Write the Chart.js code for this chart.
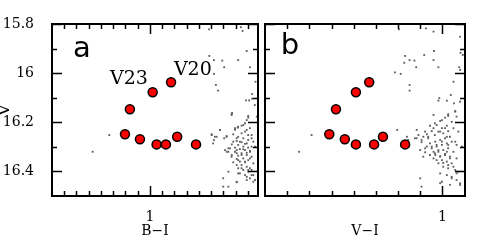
<!DOCTYPE html>
<html>
<head>
<meta charset="utf-8">
<script src="https://cdn.jsdelivr.net/npm/chart.js@4/dist/chart.umd.min.js"></script>
<style>
  html, body { margin: 0; padding: 0; background: #fff; }
  #wrap { position: relative; width: 491px; height: 252px; }
  #wrap canvas { position: absolute; left: 0; top: 0; }
</style>
</head>
<body>
<div id="wrap">
  <canvas id="cmdA" width="491" height="252"></canvas>
  <canvas id="cmdB" width="491" height="252"></canvas>
</div>
<script>
// V range (inverted) and tick marks
const vRange = [15.8, 16.5];
const vMajorTicks = [15.8, 16, 16.2, 16.4];
const vMinorTicks = [15.9, 16.1, 16.3];

// panel a: B-I
const biRange = [0.6, 1.441];
const biMajorTicks = [1];
const biMinorTicks = [0.65, 0.7, 0.75, 0.8, 0.85, 0.9, 0.95, 1.05, 1.1, 1.15, 1.2, 1.25, 1.3, 1.35, 1.4];

// panel b: V-I
const viRange = [0.6, 1.051];
const viMajorTicks = [1];
const viMinorTicks = [0.65, 0.7, 0.75, 0.8, 0.85, 0.9, 0.95];

// red variables [colour, V]
const varsBI = [[0.918, 16.147], [1.011, 16.078], [1.086, 16.037], [0.898, 16.249], [0.959, 16.269],
  [1.027, 16.290], [1.065, 16.290], [1.111, 16.259], [1.188, 16.290]];
const varsVI = [[0.760, 16.147], [0.805, 16.078], [0.835, 16.037], [0.745, 16.249], [0.780, 16.269],
  [0.805, 16.290], [0.846, 16.290], [0.866, 16.259], [0.916, 16.290]];

// field stars [colour, V]
const fieldBI = [
  [1.241, 15.822], [1.371, 15.813], [1.378, 15.828], [1.242, 15.930], [1.261, 15.947], [1.295, 15.949],
  [1.303, 15.976], [1.360, 15.947], [1.395, 15.910], [1.408, 15.976], [1.261, 16.003], [1.431, 16.035],
  [1.269, 16.048], [1.278, 16.071], [1.417, 16.085], [1.392, 16.111], [1.405, 16.111], [1.417, 16.104],
  [1.428, 16.130], [1.335, 16.162], [1.395, 16.191],
  [1.334, 16.167], [1.401, 16.181], [1.388, 16.204], [1.374, 16.214], [1.358, 16.222], [1.347, 16.231],
  [1.286, 16.231], [1.252, 16.249], [1.265, 16.259], [1.313, 16.259], [1.261, 16.272], [1.303, 16.265],
  [1.340, 16.249], [1.374, 16.245], [1.388, 16.238], [1.408, 16.224], [1.415, 16.252], [1.360, 16.259],
  [1.381, 16.265], [1.401, 16.272], [1.354, 16.276], [1.374, 16.281], [1.395, 16.286], [1.422, 16.279],
  [1.334, 16.290], [1.360, 16.292], [1.381, 16.299], [1.401, 16.303], [1.347, 16.303], [1.320, 16.306],
  [1.415, 16.299], [1.367, 16.309], [1.388, 16.313], [1.408, 16.320], [1.313, 16.320], [1.347, 16.320],
  [1.374, 16.326], [1.395, 16.333], [1.360, 16.336], [1.334, 16.333], [1.415, 16.340], [1.381, 16.347],
  [1.354, 16.349], [1.401, 16.354], [1.367, 16.360], [1.388, 16.363], [1.340, 16.363], [1.374, 16.374],
  [1.395, 16.381], [1.408, 16.387], [1.360, 16.387], [1.381, 16.394], [1.401, 16.401], [1.422, 16.415],
  [1.367, 16.408], [1.388, 16.415], [1.408, 16.428], [1.395, 16.435], [1.422, 16.442], [1.299, 16.428],
  [1.354, 16.444], [1.320, 16.462], [1.415, 16.394], [1.252, 16.252], [1.286, 16.231],
  [0.766, 16.320], [0.834, 16.252],
  [1.333, 16.170], [1.401, 16.174], [1.436, 16.177], [1.272, 16.259], [1.258, 16.286], [1.313, 16.256],
  [1.347, 16.224], [1.360, 16.218], [1.381, 16.211], [1.395, 16.231], [1.354, 16.265], [1.340, 16.279],
  [1.367, 16.279], [1.388, 16.288], [1.415, 16.265], [1.327, 16.306], [1.354, 16.313], [1.381, 16.310],
  [1.408, 16.316], [1.429, 16.299], [1.306, 16.313], [1.401, 16.252], [1.320, 16.320], [1.333, 16.340],
  [1.354, 16.326], [1.374, 16.333], [1.395, 16.324], [1.360, 16.354], [1.388, 16.360], [1.408, 16.347],
  [1.422, 16.367], [1.354, 16.374], [1.374, 16.387], [1.401, 16.394], [1.360, 16.408], [1.395, 16.422],
  [1.415, 16.415], [1.320, 16.401], [1.299, 16.462], [1.354, 16.442], [1.429, 16.435]
];
const fieldVI = [
  [0.902, 15.822], [0.963, 15.818], [0.980, 15.831], [1.040, 15.852], [0.916, 15.930], [0.926, 15.947],
  [0.914, 15.958], [0.937, 15.949], [0.941, 15.976], [0.959, 15.926], [0.981, 15.910], [0.980, 15.947],
  [0.991, 15.976], [1.041, 15.917], [1.046, 15.926], [1.038, 15.976], [1.040, 15.987], [0.893, 15.997],
  [0.906, 16.003], [1.025, 16.035], [0.926, 16.048], [0.926, 16.071], [1.019, 16.089], [0.993, 16.102],
  [0.991, 16.112], [1.010, 16.112], [1.026, 16.123], [1.040, 16.116],
  [0.898, 16.231], [0.920, 16.259], [0.923, 16.272], [0.942, 16.265], [0.953, 16.281], [0.957, 16.259],
  [0.965, 16.249], [0.976, 16.236], [0.980, 16.224], [0.972, 16.214], [0.983, 16.204], [0.995, 16.195],
  [1.006, 16.181], [1.013, 16.167], [1.029, 16.154], [1.032, 16.177], [1.021, 16.198], [1.010, 16.214],
  [0.999, 16.224], [0.991, 16.238], [1.002, 16.245], [1.013, 16.236], [1.025, 16.224], [1.036, 16.238],
  [1.017, 16.259], [1.006, 16.265], [0.995, 16.272], [0.984, 16.279], [0.972, 16.286], [0.965, 16.299],
  [0.976, 16.306], [0.987, 16.299], [0.999, 16.292], [1.010, 16.286], [1.021, 16.279], [1.032, 16.292],
  [1.044, 16.299], [0.991, 16.320], [1.002, 16.313], [1.013, 16.306], [1.025, 16.320], [0.984, 16.333],
  [0.995, 16.340], [1.006, 16.333], [1.017, 16.340], [1.032, 16.347], [0.980, 16.347], [0.999, 16.354],
  [1.010, 16.360], [1.021, 16.367], [0.991, 16.367], [1.002, 16.381], [1.013, 16.387], [1.029, 16.394],
  [1.036, 16.401], [0.995, 16.408], [1.010, 16.415], [1.021, 16.422], [1.032, 16.435], [1.040, 16.455],
  [0.995, 16.448], [0.950, 16.428], [0.953, 16.462], [1.017, 16.455], [0.968, 16.259], [0.942, 16.231],
  [0.957, 16.340], [0.677, 16.320], [0.705, 16.252],
  [0.980, 16.170], [1.013, 16.174], [1.029, 16.157], [0.999, 16.191], [0.987, 16.211], [0.961, 16.238],
  [0.946, 16.252], [0.938, 16.265], [0.953, 16.272], [0.968, 16.265], [0.983, 16.252], [0.995, 16.238],
  [1.006, 16.224], [1.010, 16.259], [0.999, 16.279], [0.987, 16.292], [0.976, 16.299], [0.991, 16.313],
  [1.013, 16.292], [1.010, 16.320], [0.980, 16.320], [0.961, 16.306], [0.950, 16.313], [1.029, 16.279],
  [0.961, 16.322], [0.972, 16.333], [0.983, 16.326], [0.995, 16.338], [1.006, 16.329], [1.017, 16.347],
  [0.987, 16.354], [1.002, 16.365], [1.013, 16.374], [1.025, 16.381], [1.021, 16.428], [1.032, 16.408],
  [0.999, 16.442], [1.040, 16.448]
];

// in-panel labels [text, colour, V]
const notesA = [['a', 0.722, 15.905], ['V23', 0.914, 16.024], ['V20', 1.175, 15.987]];
const notesB = [['b', 0.656, 15.892]];

const toXY = arr => arr.map(([x, y]) => ({ x, y }));

// frame, inward tick marks on all four sides, and panel labels
const framePlugin = {
  id: 'frame',
  afterDatasetsDraw(chart, args, opts) {
    const { ctx, chartArea: a, scales: { x, y } } = chart;
    ctx.save();
    ctx.strokeStyle = '#000';
    ctx.lineWidth = 1.5;
    const xt = (vals, len) => vals.forEach(v => {
      const p = Math.round(x.getPixelForValue(v)) + 0.5;
      ctx.beginPath();
      ctx.moveTo(p, a.bottom); ctx.lineTo(p, a.bottom - len);
      ctx.moveTo(p, a.top); ctx.lineTo(p, a.top + len);
      ctx.stroke();
    });
    const yt = (vals, len) => vals.forEach(v => {
      const p = Math.round(y.getPixelForValue(v)) + 0.5;
      ctx.beginPath();
      ctx.moveTo(a.left, p); ctx.lineTo(a.left + len, p);
      ctx.moveTo(a.right, p); ctx.lineTo(a.right - len, p);
      ctx.stroke();
    });
    xt(opts.xMinor, 5); xt(opts.xMajor, 10);
    yt(vMinorTicks, 5); yt(vMajorTicks, 10);
    ctx.lineWidth = 2;
    ctx.strokeRect(a.left, a.top, a.width, a.height);
    ctx.fillStyle = '#000';
    ctx.textAlign = 'center';
    ctx.textBaseline = 'middle';
    opts.notes.forEach(([t, vx, vy]) => {
      ctx.font = t.length === 1 ? '29px "DejaVu Sans"' : '19px "DejaVu Serif"';
      ctx.fillText(t, x.getPixelForValue(vx), y.getPixelForValue(vy));
    });
    ctx.restore();
  }
};

function makePanel(id, field, vars, xRange, xMajor, xMinor, xTitle, notes, yWidth, padRight, showY) {
  return new Chart(document.getElementById(id), {
    type: 'scatter',
    data: {
      datasets: [
        {
          data: toXY(vars),
          order: 0,
          pointRadius: 4.5,
          pointBackgroundColor: '#ff0000',
          pointBorderColor: '#000',
          pointBorderWidth: 1.5
        },
        {
          data: toXY(field),
          order: 1,
          pointStyle: 'rect',
          pointRadius: 1.3,
          pointBackgroundColor: '#5e5e5e',
          pointBorderWidth: 0
        }
      ]
    },
    options: {
      responsive: false,
      animation: false,
      devicePixelRatio: 1,
      layout: { padding: { top: 24, right: padRight, left: 0, bottom: 0 } },
      plugins: {
        legend: { display: false },
        tooltip: { enabled: false },
        frame: { xMajor, xMinor, notes }
      },
      scales: {
        x: {
          type: 'linear',
          min: xRange[0],
          max: xRange[1],
          grid: { display: false },
          border: { display: false },
          afterBuildTicks: s => { s.ticks = xMajor.map(value => ({ value })); },
          afterFit: s => { s.height = 56; },
          ticks: {
            padding: 5,
            maxRotation: 0,
            color: '#000',
            font: { family: 'DejaVu Serif', size: 14 },
            callback: v => String(v)
          },
          title: {
            display: true,
            text: xTitle,
            color: '#000',
            font: { family: 'DejaVu Serif', size: 14 },
            padding: { top: 0, bottom: 12 }
          }
        },
        y: {
          type: 'linear',
          reverse: true,
          min: vRange[0],
          max: vRange[1],
          grid: { display: false },
          border: { display: false },
          afterBuildTicks: s => { s.ticks = vMajorTicks.map(value => ({ value })); },
          afterFit: s => { s.width = yWidth; },
          ticks: {
            display: showY,
            padding: 10,
            color: '#000',
            font: { family: 'DejaVu Serif', size: 14 },
            callback: v => String(v)
          },
          title: {
            display: showY,
            text: 'V',
            color: '#000',
            font: { family: 'DejaVu Serif', size: 17 },
            padding: { top: -6, bottom: 0 }
          }
        }
      }
    },
    plugins: [framePlugin]
  });
}

makePanel('cmdA', fieldBI, varsBI, biRange, biMajorTicks, biMinorTicks, 'B\u2212I', notesA, 52, 233, true);
makePanel('cmdB', fieldVI, varsVI, viRange, viMajorTicks, viMinorTicks, 'V\u2212I', notesB, 265, 26, false);
</script>
</body>
</html>
